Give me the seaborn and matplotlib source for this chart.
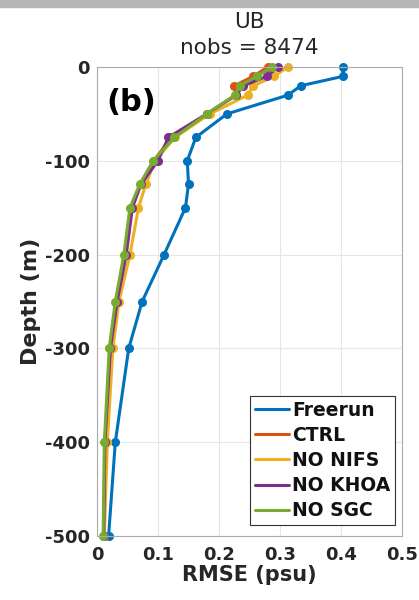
import matplotlib
matplotlib.use("Agg")
import matplotlib.pyplot as plt
import seaborn as sns
import pandas as pd
from matplotlib.patches import Rectangle

depth = [0, -10, -20, -30, -50, -75, -100, -125, -150, -200, -250, -300, -400, -500]
freerun = [0.403, 0.403, 0.334, 0.313, 0.213, 0.162, 0.148, 0.150, 0.145, 0.110, 0.074, 0.052, 0.030, 0.019]
ctrl    = [0.280, 0.256, 0.225, 0.228, 0.180, 0.122, 0.093, 0.072, 0.057, 0.046, 0.034, 0.024, 0.014, 0.011]
no_nifs = [0.313, 0.290, 0.256, 0.247, 0.185, 0.128, 0.095, 0.080, 0.068, 0.054, 0.036, 0.026, 0.017, 0.012]
no_khoa = [0.297, 0.278, 0.240, 0.228, 0.180, 0.117, 0.100, 0.072, 0.058, 0.048, 0.033, 0.022, 0.013, 0.011]
no_sgc  = [0.287, 0.262, 0.234, 0.226, 0.180, 0.127, 0.092, 0.070, 0.054, 0.044, 0.030, 0.020, 0.012, 0.010]
names = ["Freerun", "CTRL", "NO NIFS", "NO KHOA", "NO SGC"]
colors = ["#0072BD", "#D95319", "#EDB120", "#7E2F8E", "#77AC30"]
xticks = [0, 0.1, 0.2, 0.3, 0.4, 0.5]
xticklabels = ["0", "0.1", "0.2", "0.3", "0.4", "0.5"]
yticks = [0, -100, -200, -300, -400, -500]

rows = []
for n, vals in zip(names, [freerun, ctrl, no_nifs, no_khoa, no_sgc]):
    for d, v in zip(depth, vals):
        rows.append({"exp": n, "rmse": v, "depth": d})
df = pd.DataFrame(rows)

sns.set_style("white")
plt.rcParams['font.family'] = ['DejaVu Sans']

fig = plt.figure(figsize=(4.19, 6.0), dpi=100)
ax = fig.add_axes([97/419, 1-536/600, (402-97)/419, (536-67)/600])

sns.lineplot(data=df, x="rmse", y="depth", hue="exp", hue_order=names,
             palette=colors, marker="o", markersize=6.5, markeredgewidth=0,
             linewidth=2.2, sort=False, estimator=None, ax=ax)
for ln in ax.get_lines():
    ln.set_clip_on(False)

tc = "#262626"
ax.set_xlim(0, 0.5)
ax.set_ylim(-500, 0)
ax.set_xticks(xticks)
ax.set_xticklabels(xticklabels, fontweight="bold", fontsize=13, color=tc)
ax.set_yticks(yticks)
ax.set_yticklabels([str(t) for t in yticks], fontweight="bold", fontsize=13, color=tc)
ax.tick_params(axis="x", direction="in", length=3, color="#888888", pad=7)
ax.tick_params(axis="y", direction="in", length=3, color="#888888", pad=5)
ax.grid(True, color="#e6e6e6", linewidth=0.8)
for s in ax.spines.values():
    s.set_color("#aaaaaa")
    s.set_linewidth(0.8)
ax.set_xlabel("RMSE (psu)", fontweight="bold", fontsize=15, color=tc, labelpad=1)
ax.set_ylabel("Depth (m)", fontweight="bold", fontsize=16, color=tc, labelpad=3)

fig.text(249.5/419, 1-22/600, "UB", ha="center", va="center", fontsize=15.5, color=tc)
fig.text(249.5/419, 1-48/600, "nobs = 8474", ha="center", va="center", fontsize=15.5, color=tc)
ax.text(0.03, 0.955, "(b)", transform=ax.transAxes, fontsize=22, fontweight="bold",
        ha="left", va="top", color="black")

leg = ax.legend(loc="lower right", bbox_to_anchor=(395/419, 1-525/600),
                bbox_transform=fig.transFigure, frameon=True, fancybox=False,
                framealpha=1, edgecolor="#333333",
                prop={"weight": "bold", "size": 13.5},
                handlelength=1.85, handletextpad=0.15, borderpad=0.25,
                labelspacing=0.33, borderaxespad=0.0)
leg.get_frame().set_linewidth(0.8)
leg.set_zorder(10)
for h in leg.legend_handles:
    h.set_marker("")
    h.set_linewidth(2.2)
for t in leg.get_texts():
    t.set_color("#111111")

fig.patches.append(Rectangle((0, 1-7/600), 1, 7/600, transform=fig.transFigure,
                             color="#b5b5b5", zorder=0))

fig.savefig("out.png", dpi=100)
